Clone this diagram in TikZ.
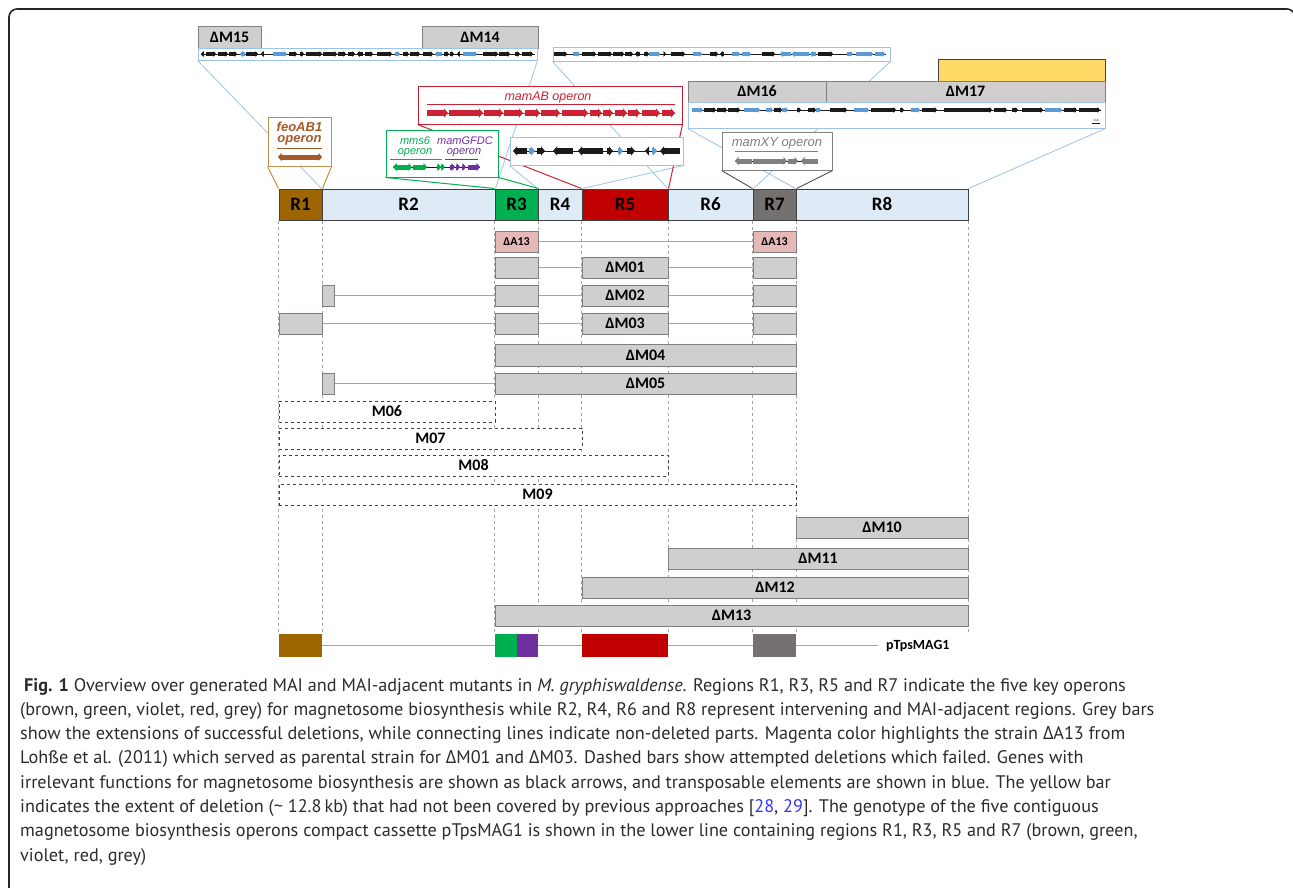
\documentclass[tikz,border=0pt]{standalone}
\usepackage{fontspec}
\setmainfont{PT Sans}
\newfontfamily\labf{Carlito}
\newfontfamily\opf{Liberation Sans}
\newfontfamily\dfont{Open Sans}
\usetikzlibrary{arrows.meta}
\pgfdeclarelayer{bg}
\pgfsetlayers{bg,main}
\definecolor{cbrown}{HTML}{9C6500}
\definecolor{clb}{HTML}{DEEBF7}
\definecolor{cgreen}{HTML}{00B050}
\definecolor{cred}{HTML}{C00000}
\definecolor{cgrey}{HTML}{767171}
\definecolor{cviolet}{HTML}{7030A0}
\definecolor{boxg}{HTML}{D0CECE}
\definecolor{boxb}{HTML}{7F7F7F}
\definecolor{pinkf}{HTML}{E6B9B8}
\definecolor{cyel}{HTML}{FFD966}
\definecolor{mapb}{HTML}{9DC3E6}
\definecolor{gk}{HTML}{1A1A1A}
\definecolor{gb}{HTML}{5B9BD5}
\definecolor{feob}{HTML}{BF9050}
\definecolor{feot}{HTML}{A65A28}
\definecolor{abred}{HTML}{CC2233}
\definecolor{xyg}{HTML}{808080}
\definecolor{connc}{HTML}{A6A6A6}
\definecolor{capc}{HTML}{2B2B2B}
\definecolor{citec}{HTML}{3333FF}
\newcommand\bx[7]{\node[#1, minimum width={(#3)-(#2)}, minimum height={(#5)-(#4)}] (#6) at ({((#2)+(#3))/2},{((#4)+(#5))/2}) {#7};}
\newcommand\Dlt{{\dfont Δ}}
\begin{document}
\begin{tikzpicture}[x=1pt,y=-1pt,
  reg/.style={draw=black!75, line width=1, inner sep=0, font=\labf\bfseries\fontsize{19}{19}\selectfont},
  gbox/.style={draw=boxb, fill=boxg, line width=1, inner sep=0, font=\labf\bfseries\fontsize{16}{16}\selectfont},
  pbox/.style={gbox, fill=pinkf, font=\labf\bfseries\fontsize{12}{12}\selectfont},
  dbox/.style={draw=black!75, dashed, fill=white, line width=1, inner sep=0, font=\labf\bfseries\fontsize{16}{16}\selectfont},
  pcol/.style={draw=none, inner sep=0},
  conn/.style={draw=connc, line width=1.3},
  vdash/.style={draw=black!35, dashed, line width=0.7},
  mapl/.style={draw=mapb, line width=0.8},
  mapbox/.style={draw=mapb, line width=1, fill=white, inner sep=0},
  inset/.style={line width=1, fill=white, inner sep=0},
  gene/.style={line width=3.2, -{Triangle[length=2.5pt,width=6pt]}},
  bgene/.style={line width=6, -{Triangle[length=4pt,width=9pt]}},
  mgene/.style={line width=5, -{Triangle[length=3.5pt,width=8pt]}},
  opl/.style={inner sep=0, font=\opf\itshape\fontsize{12.5}{12.5}\selectfont},
  gvl/.style={inner sep=0, font=\opf\itshape\fontsize{11}{11}\selectfont},
  captxt/.style={anchor=base west, inner sep=0, text=capc, font=\fontsize{18.2}{22}\selectfont},
  frame/.style={draw=black!85, line width=1.6, rounded corners=8}
]
\useasboundingbox (0,0) rectangle (1293,887);
\draw[frame] (9,895) -- (9,9) -- (1295,9) -- (1295,895);

% regions
\bx{reg,fill=cbrown}{279}{322}{189}{220}{R1}{R1}
\bx{reg,fill=clb}{322}{495}{189}{220}{R2}{R2}
\bx{reg,fill=cgreen}{495}{538}{189}{220}{R3}{R3}
\bx{reg,fill=clb}{538}{582}{189}{220}{R4}{R4}
\bx{reg,fill=cred}{582}{668}{189}{220}{R5}{R5}
\bx{reg,fill=clb}{668}{753}{189}{220}{R6}{R6}
\bx{reg,fill=cgrey}{753}{796}{189}{220}{R7}{R7}
\bx{reg,fill=clb}{796}{968}{189}{220}{R8}{R8}

% top maps
\bx{gbox}{198}{261}{26}{48}{d15}{ΔM15}
\bx{gbox}{422}{538}{26}{48}{d14}{ΔM14}
\bx{mapbox}{198}{537}{48}{60}{mapA}{}
\bx{mapbox}{553}{890}{47}{61}{mapB}{}
\bx{gbox,draw=black!75,fill=cyel}{938}{1105}{59}{81}{yel}{}
\bx{gbox}{688}{826}{81}{102}{d16}{ΔM16}
\bx{gbox}{826}{1105}{81}{102}{d17}{ΔM17}
\bx{mapbox}{688}{1105}{102}{128}{mapC}{}

% insets
\bx{inset,draw=abred}{418}{682}{86}{124}{mab}{}
\bx{mapbox}{510}{683}{137}{165}{mapD}{}
\bx{inset,draw=feob}{268}{331}{117}{166}{feo}{}
\bx{inset,draw=cgreen}{386}{498}{130}{177}{grn}{}
\bx{inset,draw=xyg}{722}{832}{132}{170}{mxy}{}

% gene tracks
\draw[gk,line width=0.7] (201,54) -- (535,54);
\foreach \a/\b/\c in {203/201/gk, 206/216/gk, 218/228/gk, 229/237/gk, 245/240/gb, 246/258/gk, 263/261/gk, 273/287/gb, 289/297/gk, 300/304/gk, 306/322/gk, 323/337/gk, 338/346/gk, 348/355/gk, 363/357/gk, 365/373/gk, 377/392/gk, 395/400/gb, 403/409/gk, 410/420/gk, 423/433/gk, 442/435/gb, 444/449/gk, 450/454/gk, 460/457/gk, 463/477/gb, 483/498/gk, 499/510/gk, 515/520/gk, 522/533/gk}
  {\draw[gene,\c] (\a,54) -- (\b,54);}
\draw[gk,line width=0.7] (555,54) -- (886,54);
\foreach \a/\b/\c in {554/567/gk, 573/580/gb, 582/596/gk, 598/612/gk, 613/624/gk, 625/633/gk, 640/635/gk, 644/649/gk, 649/660/gb, 664/666/gk, 671/685/gk, 693/702/gb, 710/718/gk, 724/720/gk, 732/740/gb, 742/751/gb, 762/775/gk, 791/780/gb, 809/792/gb, 816/810/gb, 818/833/gk, 847/853/gb, 856/873/gb, 875/885/gb}
  {\draw[gene,\c] (\a,54) -- (\b,54);}
\draw[gk,line width=0.7] (692,110) -- (1101,110);
\foreach \a/\b/\c in {692/703/gb, 704/716/gk, 717/727/gk, 728/740/gk, 744/760/gb, 766/773/gb, 774/782/gk, 782/788/gb, 797/801/gk, 808/816/gk, 816/821/gb, 830/847/gk, 854/869/gb, 871/896/gk, 900/904/gk, 911/920/gb, 922/937/gk, 944/992/gk, 994/1007/gk, 1012/1018/gk, 1022/1043/gk, 1045/1062/gb, 1064/1077/gk, 1079/1100/gk}
  {\draw[gene,\c] (\a,110) -- (\b,110);}
\draw[gk,line width=0.8] (1092,123) -- (1100,123);
\node[inner sep=0, font=\fontsize{3}{3}\selectfont] (kb) at (1096,120) {1 kb};
\draw[gk,line width=0.7] (514,151) -- (680,151);
\foreach \a/\b/\c in {527/513/gk, 529/535/gb, 537/545/gk, 573/553/gk, 603/578/gk, 607/613/gk, 618/623/gb, 627/635/gk, 648/645/gk, 652/657/gb, 680/660/gk}
  {\draw[bgene,\c] (\a,151) -- (\b,151);}

% mamAB
\node[opl, text=abred] (mabt) at (548,97) {mamAB operon};
\draw[abred, line width=0.8] (427,104) -- (675,104);
\draw[abred,line width=0.7] (427,113) -- (675,113);
\foreach \a/\b in {427/448, 449/483, 484/503, 504/523, 525/540, 541/560, 562/588, 590/602, 603/613, 615/627, 628/640, 642/660, 662/675}
  {\draw[bgene,abred] (\a,113) -- (\b,113);}

% feo
\node[opl, font=\opf\bfseries\itshape\fontsize{13}{13}\selectfont, text=feot] (feo1) at (299.5,127) {feoAB1};
\node[opl, font=\opf\bfseries\itshape\fontsize{13}{13}\selectfont, text=feot] (feo2) at (299.5,140) {operon};
\draw[feot, line width=0.8] (277,148) -- (322,148);
\draw[feot, line width=5, {Triangle[length=3.5pt,width=8pt]}-{Triangle[length=3.5pt,width=8pt]}] (278,157) -- (322,157);

% green / violet
\node[gvl, text=cgreen] (g1) at (415,141) {mms6};
\node[gvl, text=cgreen] (g2) at (415,152.5) {operon};
\node[gvl, text=cviolet] (v1) at (465,141) {mamGFDC};
\node[gvl, text=cviolet] (v2) at (464,152.5) {operon};
\draw[cgreen, line width=0.8] (390,159) -- (442,159);
\draw[cviolet, line width=0.8] (445,159) -- (478,159);
\draw[gk, line width=0.7] (393,167) -- (480,167);
\draw[mgene,cgreen] (401,167) -- (393,167);
\draw[mgene,cgreen] (400,167) -- (412,167);
\draw[mgene,cgreen] (413,167) -- (427,167);
\draw[mgene,cgreen] (437,167) -- (441,167);
\draw[mgene,cgreen] (441,167) -- (445,167);
\foreach \a/\b in {450/455, 456/460, 462/466, 468/480}
  {\draw[mgene,cviolet] (\a,167) -- (\b,167);}

% mamXY
\node[opl, font=\opf\itshape\fontsize{13}{13}\selectfont, text=xyg] (xyt) at (777,143) {mamXY operon};
\draw[xyg, line width=0.8] (735,151) -- (818,151);
\draw[gk, line width=0.7] (735,161) -- (818,161);
\draw[mgene,xyg] (752,161) -- (735,161);
\draw[mgene,xyg] (753,161) -- (787,161);
\draw[mgene,xyg] (788,161) -- (798,161);
\draw[mgene,xyg] (818,161) -- (801,161);

% rows
\bx{pbox}{495}{538}{231}{252}{a13a}{ΔA13}
\bx{pbox}{753}{796}{231}{252}{a13b}{ΔA13}
\draw[conn] (a13a) -- (a13b);

\bx{gbox}{495}{538}{257}{278}{m1a}{}
\bx{gbox}{582}{668}{257}{278}{m1b}{ΔM01}
\bx{gbox}{753}{796}{257}{278}{m1c}{}
\draw[conn] (m1a) -- (m1b); \draw[conn] (m1b) -- (m1c);

\bx{gbox}{322}{334}{285}{306}{m2s}{}
\bx{gbox}{495}{538}{285}{306}{m2a}{}
\bx{gbox}{582}{668}{285}{306}{m2b}{ΔM02}
\bx{gbox}{753}{796}{285}{306}{m2c}{}
\draw[conn] (m2s) -- (m2a); \draw[conn] (m2a) -- (m2b); \draw[conn] (m2b) -- (m2c);

\bx{gbox}{279}{322}{313}{334}{m3s}{}
\bx{gbox}{495}{538}{313}{334}{m3a}{}
\bx{gbox}{582}{668}{313}{334}{m3b}{ΔM03}
\bx{gbox}{753}{796}{313}{334}{m3c}{}
\draw[conn] (m3s) -- (m3a); \draw[conn] (m3a) -- (m3b); \draw[conn] (m3b) -- (m3c);

\bx{gbox}{495}{796}{344}{366}{m4}{ΔM04}

\bx{gbox}{322}{334}{373}{394}{m5s}{}
\bx{gbox}{495}{796}{373}{394}{m5}{ΔM05}
\draw[conn] (m5s) -- (m5);

\bx{dbox}{279}{495}{401}{422}{m6}{M06}
\bx{dbox}{279}{582}{428}{449}{m7}{M07}
\bx{dbox}{279}{668}{455}{476}{m8}{M08}
\bx{dbox}{279}{796}{484}{505}{m9}{M09}

\bx{gbox}{796}{968}{517}{538}{m10}{ΔM10}
\bx{gbox}{668}{968}{548}{569}{m11}{ΔM11}
\bx{gbox}{582}{968}{577}{598}{m12}{ΔM12}
\bx{gbox}{495}{968}{605}{626}{m13}{ΔM13}

% pTpsMAG1
\bx{pcol,fill=cbrown}{279}{322}{634}{657}{p1}{}
\bx{pcol,fill=cgreen}{495}{517}{634}{657}{p3a}{}
\bx{pcol,fill=cviolet}{517}{538}{634}{657}{p3b}{}
\bx{pcol,fill=cred}{582}{668}{634}{657}{p5}{}
\bx{pcol,fill=cgrey}{753}{796}{634}{657}{p7}{}
\coordinate (pend) at (878,645.5);
\node[inner sep=0, anchor=west, font=\labf\bfseries\fontsize{14}{14}\selectfont] (ptl) at (886,645.5) {pTpsMAG1};
\begin{pgfonlayer}{bg}
\draw[conn,line width=1.8] (p1) -- (p3a); \draw[conn,line width=1.8] (p3b) -- (p5);
\draw[conn,line width=1.8] (p5) -- (p7); \draw[conn,line width=1.8] (p7) -- (pend);
% vertical guides
\coordinate (base) at (0,634);
\foreach \n/\s in {R1/south west, R1/south east, R3/south west, R3/south east, R5/south west, R5/south east, R7/south west, R7/south east, R8/south east}
  {\draw[vdash] (\n.\s) -- (\n.\s |- base);}
% map and inset lines
\draw[mapl] (mapA.south west) -- (R2.north west);
\draw[mapl] (mapA.south east) -- (R2.north east);
\draw[mapl] (mapB.south west) -- (R6.north west);
\draw[mapl] (mapB.south east) -- (R6.north east);
\draw[mapl] (mapC.south west) -- (R8.north west);
\draw[mapl] (mapC.south east) -- (R8.north east);
\draw[mapl] (mapD.south west) -- (R4.north west);
\draw[mapl] (mapD.south east) -- (R4.north east);
\draw[feob,line width=1] (feo.south west) -- (R1.north west);
\draw[feob,line width=1] (feo.south east) -- (R1.north east);
\draw[cgreen,line width=1] (grn.south west) -- (R3.north west);
\draw[cgreen,line width=1] (grn.south east) -- (R3.north east);
\draw[abred,line width=1] (mab.south west) -- (R5.north west);
\draw[abred,line width=1] (mab.south east) -- (R5.north east);
\draw[black!70,line width=0.9] (mxy.south west) -- (R7.north west);
\draw[black!70,line width=0.9] (mxy.south east) -- (R7.north east);
\end{pgfonlayer}

% caption
\node[captxt] (c1) at (24,691) {\textbf{Fig. 1} Overview over generated MAI and MAI-adjacent mutants in \textit{M. gryphiswaldense}. Regions R1, R3, R5 and R7 indicate the five key operons};
\node[captxt] (c2) at (20,715.3) {(brown, green, violet, red, grey) for magnetosome biosynthesis while R2, R4, R6 and R8 represent intervening and MAI-adjacent regions. Grey bars};
\node[captxt] (c3) at (20,739.6) {show the extensions of successful deletions, while connecting lines indicate non-deleted parts. Magenta color highlights the strain \Dlt A13 from};
\node[captxt] (c4) at (20,763.9) {Lohße et al. (2011) which served as parental strain for \Dlt M01 and \Dlt M03. Dashed bars show attempted deletions which failed. Genes with};
\node[captxt] (c5) at (20,788.2) {irrelevant functions for magnetosome biosynthesis are shown as black arrows, and transposable elements are shown in blue. The yellow bar};
\node[captxt] (c6) at (20,812.5) {indicates the extent of deletion (\textasciitilde\ 12.8\,kb) that had not been covered by previous approaches [\textcolor{citec}{28}, \textcolor{citec}{29}]. The genotype of the five contiguous};
\node[captxt] (c7) at (20,836.8) {magnetosome biosynthesis operons compact cassette pTpsMAG1 is shown in the lower line containing regions R1, R3, R5 and R7 (brown, green,};
\node[captxt] (c8) at (20,861.1) {violet, red, grey)};
\end{tikzpicture}
\end{document}
